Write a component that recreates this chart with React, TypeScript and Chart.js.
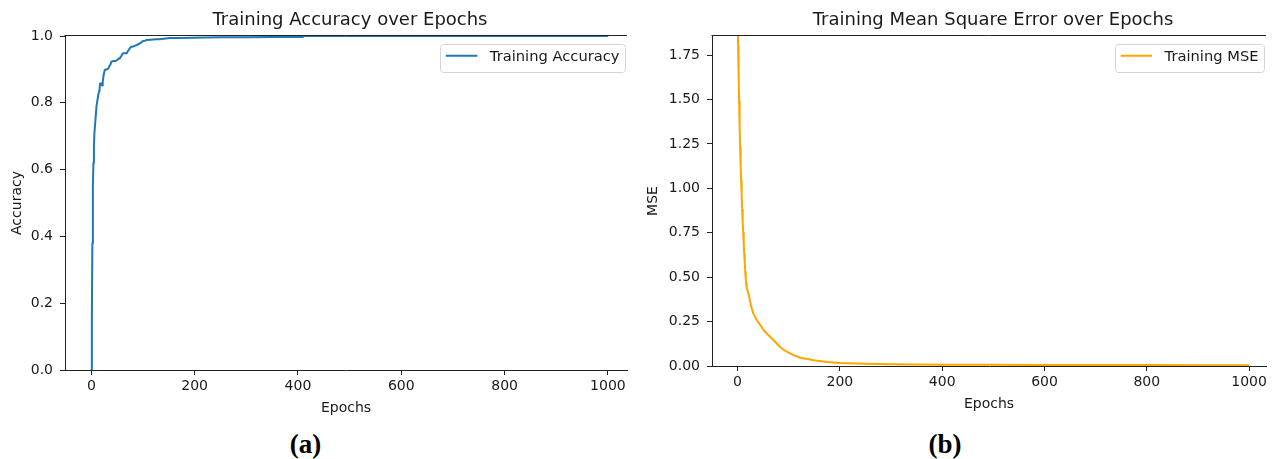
import React, { useEffect, useRef } from "react";
import { Chart, registerables } from "chart.js";

Chart.register(...registerables);

// ---------- data ----------
const accEpochs = [0, 1, 2, 3, 4, 5, 6, 8, 10, 12, 14, 15, 16, 17, 19, 21, 22, 24, 26, 28, 30, 33, 35, 37, 39, 42, 46, 50, 53, 55, 58, 61, 64, 68, 71, 74, 77, 80, 86, 92, 96, 100, 104, 107, 115, 125, 132, 140, 152, 170, 197, 250, 300, 350, 409, 411, 600, 800, 999];
const accValues = [0.0, 0.16, 0.38, 0.55, 0.62, 0.67, 0.71, 0.75, 0.79, 0.81, 0.828, 0.835, 0.845, 0.858, 0.858, 0.852, 0.862, 0.885, 0.898, 0.9, 0.9, 0.903, 0.91, 0.915, 0.923, 0.925, 0.925, 0.928, 0.933, 0.933, 0.94, 0.948, 0.948, 0.948, 0.955, 0.962, 0.968, 0.968, 0.972, 0.976, 0.98, 0.985, 0.986, 0.988, 0.989, 0.99, 0.99, 0.992, 0.994, 0.994, 0.995, 0.996, 0.996, 0.997, 0.997, 1.0, 1.0, 1.0, 1.0];

const mseEpochs = [0, 1, 2, 3, 4, 5, 6, 7, 8, 9, 10, 11, 12, 13, 14, 15, 16, 17, 18, 20, 22, 25, 28, 31, 35, 38, 45, 51, 57, 64, 70, 76, 83, 90, 100, 110, 125, 149, 175, 200, 250, 300, 400, 500, 600, 700, 800, 900, 999];
const mseValues = [1.98, 1.8, 1.64, 1.49, 1.35, 1.23, 1.13, 1.04, 0.96, 0.88, 0.81, 0.75, 0.69, 0.63, 0.58, 0.53, 0.49, 0.46, 0.44, 0.42, 0.4, 0.355, 0.32, 0.295, 0.272, 0.257, 0.228, 0.201, 0.183, 0.163, 0.146, 0.128, 0.107, 0.091, 0.075, 0.06, 0.045, 0.032, 0.023, 0.017, 0.012, 0.0095, 0.0075, 0.0065, 0.006, 0.0055, 0.005, 0.0048, 0.0045];

const epochTicks = [0, 200, 400, 600, 800, 1000];
const accTicks = [0, 0.2, 0.4, 0.6, 0.8, 1.0];
const mseTicks = [0, 0.25, 0.5, 0.75, 1.0, 1.25, 1.5, 1.75];

const FONT = "'DejaVu Sans', sans-serif";
const TEXT = "#1a1a1a";
const SPINE = "#222222";

type Panel = {
  left: number;
  width: number;
  height: number;
  title: string;
  label: string;
  yTitle: string;
  color: string;
  xs: number[];
  ys: number[];
  yTicks: number[];
  yDigits: number;
  xMin: number;
  xMax: number;
  yMax: number;
  axisW: number;
  axisH: number;
  padRight: number;
  yTitlePad: number;
  xTitlePad: number;
};

const decorPlugin = {
  id: "decor",
  afterDraw(chart: any, _args: any, opts: any) {
    const { ctx, chartArea: a } = chart;
    ctx.save();
    // top spine
    ctx.strokeStyle = SPINE;
    ctx.lineWidth = 1;
    ctx.beginPath();
    ctx.moveTo(a.left - 0.5, a.top - 0.5);
    ctx.lineTo(a.right, a.top - 0.5);
    ctx.stroke();
    // title
    ctx.fillStyle = TEXT;
    ctx.font = `18px ${FONT}`;
    ctx.textAlign = "center";
    ctx.textBaseline = "middle";
    ctx.fillText(opts.title, (a.left + a.right) / 2 + 4, 20);
    // legend
    ctx.font = `14.7px ${FONT}`;
    const tw = ctx.measureText(opts.label).width;
    const w = tw + 55.5;
    const h = 27.5;
    const right = a.right - 1.5;
    const lx = right - w;
    const ty = a.top + 7.5;
    ctx.fillStyle = "rgba(255,255,255,0.8)";
    ctx.strokeStyle = "#d4d4d4";
    ctx.lineWidth = 1;
    ctx.beginPath();
    (ctx as any).roundRect(Math.round(lx) + 0.5, Math.round(ty) + 0.5, Math.round(w), Math.round(h), 3);
    ctx.fill();
    ctx.stroke();
    const cy = ty + h / 2 - 1.5;
    ctx.strokeStyle = opts.color;
    ctx.lineWidth = 2;
    ctx.beginPath();
    ctx.moveTo(lx + 5.5, cy);
    ctx.lineTo(lx + 37, cy);
    ctx.stroke();
    ctx.fillStyle = TEXT;
    ctx.textAlign = "left";
    ctx.textBaseline = "middle";
    ctx.fillText(opts.label, lx + 49.5, cy + 1);
    ctx.restore();
  },
};

function buildConfig(p: Panel): any {
  return {
    type: "line",
    data: {
      datasets: [
        {
          label: p.label,
          data: p.xs.map((x, i) => ({ x, y: p.ys[i] })),
          borderColor: p.color,
          backgroundColor: p.color,
          borderWidth: 2,
          borderJoinStyle: "round",
          borderCapStyle: "round",
          pointRadius: 0,
          tension: 0,
          fill: false,
        },
      ],
    },
    options: {
      responsive: false,
      animation: false,
      events: [],
      layout: { padding: { top: 36, right: p.padRight, left: 0, bottom: 0 } },
      plugins: {
        legend: { display: false },
        title: { display: false },
        tooltip: { enabled: false },
        decor: { title: p.title, label: p.label, color: p.color },
      },
      scales: {
        x: {
          type: "linear",
          min: p.xMin,
          max: p.xMax,
          afterBuildTicks: (s: any) => {
            s.ticks = epochTicks.map((v) => ({ value: v }));
          },
          afterFit: (s: any) => {
            s.height = p.axisH;
          },
          grid: { drawOnChartArea: false, drawTicks: true, tickLength: 5, color: SPINE, lineWidth: 1 },
          border: { display: true, color: SPINE, width: 1 },
          ticks: {
            color: TEXT,
            font: { family: FONT, size: 14 },
            padding: 3,
            maxRotation: 0,
            autoSkip: false,
            callback: (v: number) => String(v),
          },
          title: {
            display: true,
            text: "Epochs",
            color: TEXT,
            font: { family: FONT, size: 14 },
            padding: { top: 0, bottom: p.xTitlePad },
          },
        },
        y: {
          type: "linear",
          min: 0,
          max: p.yMax,
          afterBuildTicks: (s: any) => {
            s.ticks = p.yTicks.map((v) => ({ value: v }));
          },
          afterFit: (s: any) => {
            s.width = p.axisW;
          },
          grid: { drawOnChartArea: false, drawTicks: true, tickLength: 5, color: SPINE, lineWidth: 1 },
          border: { display: true, color: SPINE, width: 1 },
          ticks: {
            color: TEXT,
            font: { family: FONT, size: 14 },
            padding: 7,
            autoSkip: false,
            callback: (v: number) => v.toFixed(p.yDigits),
          },
          title: {
            display: true,
            text: p.yTitle,
            color: TEXT,
            font: { family: FONT, size: 14 },
            padding: { top: p.yTitlePad, bottom: 0 },
          },
        },
      },
    },
    plugins: [decorPlugin],
  };
}

const panels: Panel[] = [
  {
    left: 0,
    width: 640,
    height: 420,
    title: "Training Accuracy over Epochs",
    label: "Training Accuracy",
    yTitle: "Accuracy",
    color: "#1f77b4",
    xs: accEpochs,
    ys: accValues,
    yTicks: accTicks,
    yDigits: 1,
    xMin: -51,
    xMax: 1037,
    yMax: 1.0,
    axisW: 65,
    axisH: 50,
    padRight: 13,
    yTitlePad: 8.6,
    xTitlePad: 3.6,
  },
  {
    left: 640,
    width: 636,
    height: 420,
    title: "Training Mean Square Error over Epochs",
    label: "Training MSE",
    yTitle: "MSE",
    color: "#ffa500",
    xs: mseEpochs,
    ys: mseValues,
    yTicks: mseTicks,
    yDigits: 2,
    xMin: -50,
    xMax: 1033,
    yMax: 1.857,
    axisW: 72,
    axisH: 54,
    padRight: 10,
    yTitlePad: 4.9,
    xTitlePad: 7.6,
  },
];

function ChartPanel({ p }: { p: Panel }) {
  const ref = useRef<HTMLCanvasElement>(null);
  useEffect(() => {
    const chart = new Chart(ref.current as HTMLCanvasElement, buildConfig(p));
    return () => chart.destroy();
  }, []);
  return (
    <canvas
      ref={ref}
      width={p.width}
      height={p.height}
      style={{ position: "absolute", left: p.left, top: 0, width: p.width, height: p.height }}
    />
  );
}

const captions = [
  { text: "(a)", x: 305.5 },
  { text: "(b)", x: 945 },
];

export default function App() {
  return (
    <div
      style={{
        position: "fixed",
        left: 0,
        top: 0,
        width: 1276,
        height: 459,
        background: "#ffffff",
        overflow: "hidden",
      }}
    >
      {panels.map((p, i) => (
        <ChartPanel key={i} p={p} />
      ))}
      {captions.map((c, i) => (
        <div
          key={i}
          style={{
            position: "absolute",
            left: c.x - 60,
            width: 120,
            top: 429,
            height: 30,
            lineHeight: "30px",
            textAlign: "center",
            fontFamily: "'Liberation Serif', serif",
            fontWeight: "bold",
            fontSize: 27,
            color: "#000",
          }}
        >
          {c.text}
        </div>
      ))}
    </div>
  );
}
